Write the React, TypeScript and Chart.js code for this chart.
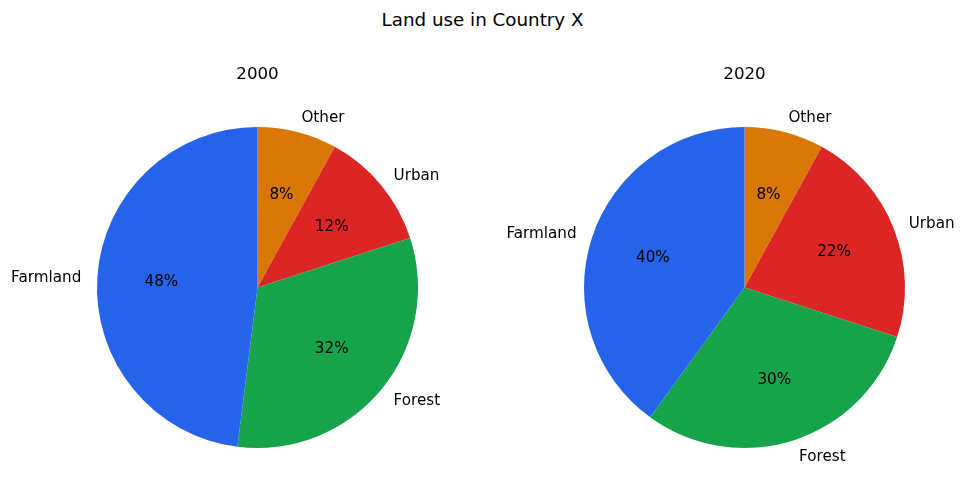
import React, { useEffect, useRef } from "react";
import { Chart, registerables } from "chart.js";

Chart.register(...registerables);

// Data (drawn clockwise from top in Chart.js, so order reversed vs. matplotlib counter-clockwise)
const categories = ["Other", "Urban", "Forest", "Farmland"];
const colors = ["#d97706", "#dc2626", "#16a34a", "#2563eb"];
const values2000 = [8, 12, 32, 48];
const values2020 = [8, 22, 30, 40];
const mainTitle = "Land use in Country X";
const subTitles = ["2000", "2020"];

const FONT = "'DejaVu Sans', sans-serif";

const labelPlugin = {
  id: "pieLabels",
  afterDatasetsDraw(chart: any, _args: any, opts: any) {
    const ctx = chart.ctx;
    const meta = chart.getDatasetMeta(0);
    const data = chart.data.datasets[0].data as number[];
    const total = data.reduce((a, b) => a + b, 0);
    ctx.save();
    ctx.fillStyle = "#000";
    ctx.textBaseline = "middle";
    meta.data.forEach((arc: any, i: number) => {
      const mid = (arc.startAngle + arc.endAngle) / 2;
      const r = arc.outerRadius;
      const cx = arc.x;
      const cy = arc.y;
      const c = Math.cos(mid);
      const s = Math.sin(mid);
      // category label
      ctx.font = `15.2px ${FONT}`;
      ctx.textAlign = c < -1e-9 ? "right" : "left";
      ctx.fillText(chart.data.labels[i], cx + 1.1 * r * c, cy + 1.1 * r * s + 1.2);
      // percent label
      ctx.textAlign = "center";
      const pct = Math.round((data[i] / total) * 100) + "%";
      ctx.fillText(pct, cx + 0.6 * r * c, cy + 0.6 * r * s + 0.5);
    });
    // subtitle
    const area = chart.chartArea;
    ctx.font = `16.7px ${FONT}`;
    ctx.textAlign = "center";
    ctx.fillText(opts.title, (area.left + area.right) / 2, 75);
    ctx.restore();
  },
};

function PieCanvas(props: {
  values: number[];
  title: string;
  left: number;
  width: number;
  padding: { left: number; right: number; top: number; bottom: number };
}) {
  const ref = useRef<HTMLCanvasElement | null>(null);
  useEffect(() => {
    if (!ref.current) return;
    const chart = new Chart(ref.current, {
      type: "pie",
      data: {
        labels: categories,
        datasets: [
          {
            data: props.values,
            backgroundColor: colors,
            borderWidth: 0,
          },
        ],
      },
      options: {
        responsive: false,
        animation: false,
        layout: { padding: props.padding },
        plugins: {
          legend: { display: false },
          tooltip: { enabled: false },
          title: { display: false },
          pieLabels: { title: props.title },
        } as any,
      },
      plugins: [labelPlugin],
    });
    return () => chart.destroy();
  }, []);
  return (
    <canvas
      ref={ref}
      width={props.width}
      height={499}
      style={{ position: "absolute", left: props.left, top: 0, width: props.width, height: 499 }}
    />
  );
}

export default function App() {
  return (
    <div
      style={{
        position: "absolute",
        left: 0,
        top: 0,
        width: 965,
        height: 499,
        background: "#fff",
        overflow: "hidden",
      }}
    >
      <div
        style={{
          position: "absolute",
          left: 0,
          top: 0,
          width: 965,
          height: 39,
          lineHeight: "39px",
          textAlign: "center",
          fontFamily: FONT,
          fontSize: "18.3px",
          color: "#000",
        }}
      >
        {mainTitle}
      </div>
      <PieCanvas
        values={values2000}
        title={subTitles[0]}
        left={0}
        width={482}
        padding={{ left: 97, right: 64, top: 127, bottom: 51 }}
      />
      <PieCanvas
        values={values2020}
        title={subTitles[1]}
        left={482}
        width={483}
        padding={{ left: 102, right: 60, top: 127, bottom: 51 }}
      />
    </div>
  );
}
